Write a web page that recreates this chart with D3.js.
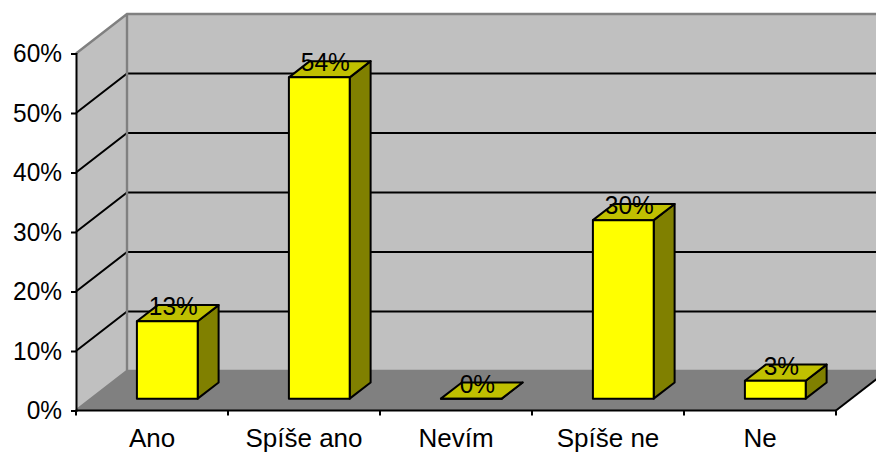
<!DOCTYPE html>
<html>
<head>
<meta charset="utf-8">
<script src="https://cdn.jsdelivr.net/npm/d3@7"></script>
<style>
html,body{margin:0;padding:0;background:#fff;overflow:hidden}
svg{display:block}
text{font-family:"Liberation Sans",Arial,sans-serif;fill:#000}
</style>
</head>
<body>
<svg id="chart" width="876" height="452"></svg>
<script>
// Survey responses, percent
const categories = ["Ano", "Spíše ano", "Nevím", "Spíše ne", "Ne"];
const values = [13, 54, 0, 30, 3];
const tickValues = [0, 10, 20, 30, 40, 50, 60];

const width = 876, height = 452;
const svg = d3.select("#chart");

// Front plane of the 3D box
const x = d3.scaleBand().domain(categories).range([76, 836]);
const y = d3.scaleLinear().domain([0, 60]).range([410.5, 53.5]);
// Depth projection: 0 = front plane, 1 = back wall
const dx = d3.scaleLinear().domain([0, 1]).range([0, 51]);
const dy = d3.scaleLinear().domain([0, 1]).range([0, -39.5]);
const barWidth = x.bandwidth() * 0.4;
const barDepthStart = 0.3, barDepthEnd = 0.71;
const fontSize = "26px";

const poly = pts => "M" + pts.map(p => p.join(",")).join("L") + "Z";
const line = (a, b) => "M" + a.join(",") + "L" + b.join(",");
const [x0, x1] = x.range();
const yTop = y(60), yBase = y(0);

// Squeeze a label horizontally; the percent labels run narrower than the category names
const condense = sel => sel.each(function () {
  this.setAttribute("textLength", this.getComputedTextLength() * 0.94);
  this.setAttribute("lengthAdjust", "spacingAndGlyphs");
});

const box = svg.append("g");
// back wall
box.append("path")
  .attr("d", poly([[x0 + dx(1), yTop + dy(1)], [x1 + dx(1), yTop + dy(1)], [x1 + dx(1), yBase + dy(1)], [x0 + dx(1), yBase + dy(1)]]))
  .attr("fill", "#c0c0c0");
// side wall
box.append("path")
  .attr("d", poly([[x0, yTop], [x0 + dx(1), yTop + dy(1)], [x0 + dx(1), yBase + dy(1)], [x0, yBase]]))
  .attr("fill", "#c0c0c0");
// floor
box.append("path")
  .attr("d", poly([[x0, yBase], [x0 + dx(1), yBase + dy(1)], [x1 + dx(1), yBase + dy(1)], [x1, yBase]]))
  .attr("fill", "#808080");

// gridlines across side wall and back wall
box.selectAll(".grid").data(tickValues.filter(t => t > 0 && t < 60)).join("path")
  .attr("class", "grid")
  .attr("fill", "none").attr("stroke", "#000").attr("stroke-width", 2)
  .attr("d", t => `M${x0},${y(t)}L${x0 + dx(1)},${y(t) + dy(1)}L${x1 + dx(1)},${y(t) + dy(1)}`);

// grey box edges
box.append("path")
  .attr("fill", "none").attr("stroke", "#808080").attr("stroke-width", 2.4)
  .attr("d", `M${x0},${yTop}L${x0 + dx(1)},${yTop + dy(1)}L${x1 + dx(1)},${yTop + dy(1)}`
    + `M${x0 + dx(1)},${yTop + dy(1)}L${x0 + dx(1)},${yBase + dy(1)}L${x1 + dx(1)},${yBase + dy(1)}`
    + line([x0, yBase], [x0 + dx(1), yBase + dy(1)]));
// floor's right edge
box.append("path")
  .attr("fill", "none").attr("stroke", "#000").attr("stroke-width", 2)
  .attr("d", line([x1, yBase], [x1 + dx(1), yBase + dy(1)]));

// Axes
const yAxis = d3.axisLeft(y).tickValues(tickValues).tickFormat(d => d + "%").tickSize(5).tickPadding(9);
const gy = svg.append("g").attr("transform", `translate(${x0},0)`).call(yAxis);
const xAxis = d3.axisBottom(x).tickSize(0).tickPadding(18);
const gx = svg.append("g").attr("transform", `translate(0,${yBase})`).call(xAxis);
for (const g of [gy, gx]) {
  g.attr("font-family", null).attr("font-size", null);
  g.selectAll("text").style("font-size", fontSize);
  g.selectAll("path.domain,line").attr("stroke", "#000").attr("stroke-width", 2);
}
gy.selectAll("text").call(condense);
gx.select("path.domain").attr("d", `M${x0},0H${x1}`);
// category separators on the horizontal axis
gx.selectAll(".sep").data(d3.range(categories.length + 1)).join("line")
  .attr("class", "sep")
  .attr("x1", i => x0 + i * x.step()).attr("x2", i => x0 + i * x.step())
  .attr("y1", 0).attr("y2", 5)
  .attr("stroke", "#000").attr("stroke-width", 2);

// Bars, drawn as front, top and side faces
const bars = svg.selectAll(".bar").data(values.map((v, i) => ({ v, c: categories[i] }))).join("g").attr("class", "bar");
const geom = d => {
  const l = x(d.c) + (x.bandwidth() - barWidth) / 2 + dx(barDepthStart);
  const r = l + barWidth;
  const b = y(0) + dy(barDepthStart);
  const t = b - (y(0) - y(d.v));
  const ox = dx(barDepthEnd - barDepthStart), oy = dy(barDepthEnd - barDepthStart);
  return { l, r, b, t, ox, oy };
};
const faceStyle = s => s.attr("stroke", "#000").attr("stroke-width", 2).attr("stroke-linejoin", "round");
bars.append("path").call(faceStyle).attr("fill", "#808000")
  .attr("d", d => { const g = geom(d); return poly([[g.r, g.t], [g.r + g.ox, g.t + g.oy], [g.r + g.ox, g.b + g.oy], [g.r, g.b]]); });
bars.append("path").call(faceStyle).attr("fill", "#c0c000")
  .attr("d", d => { const g = geom(d); return poly([[g.l, g.t], [g.l + g.ox, g.t + g.oy], [g.r + g.ox, g.t + g.oy], [g.r, g.t]]); });
bars.append("path").call(faceStyle).attr("fill", "#ffff00")
  .attr("d", d => { const g = geom(d); return poly([[g.l, g.t], [g.r, g.t], [g.r, g.b], [g.l, g.b]]); });

// Value labels sit over the top face
bars.append("text")
  .attr("text-anchor", "middle")
  .style("font-size", fontSize)
  .attr("x", d => { const g = geom(d); return (g.l + g.r) / 2 + 6; })
  .attr("y", d => geom(d).t - 6)
  .text(d => d.v + "%")
  .call(condense);
</script>
</body>
</html>
